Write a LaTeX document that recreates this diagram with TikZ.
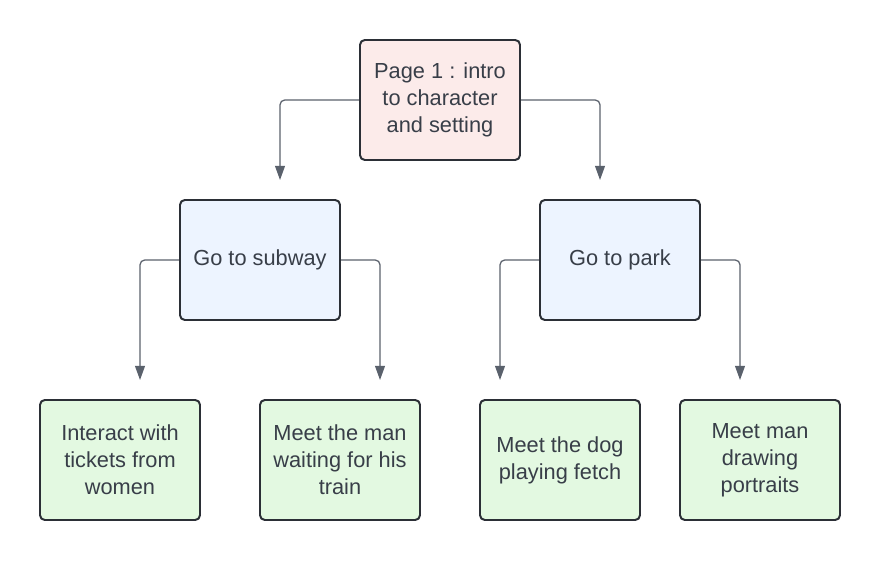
\documentclass[tikz,border=0pt]{standalone}
\usepackage{fontspec}
\setmainfont{Liberation Sans}
\usetikzlibrary{arrows.meta}
\pgfdeclarelayer{edgelayer}
\pgfdeclarelayer{nodelayer}
\pgfsetlayers{edgelayer,nodelayer,main}
\definecolor{lpink}{HTML}{FCEBEA}
\definecolor{lblue}{HTML}{EDF4FF}
\definecolor{lgreen}{HTML}{E3F9E1}
\definecolor{dline}{HTML}{2B2F36}
\definecolor{dtext}{HTML}{383E48}
\definecolor{cline}{HTML}{5A616C}
\tikzstyle{page}=[rectangle, rounded corners=0.12cm, draw=dline, line width=1.4pt, minimum width=4cm, minimum height=3cm, text=dtext, align=center, font=\fontsize{15.5}{19.2}\selectfont]
\tikzstyle{start}=[style=page, fill=lpink]
\tikzstyle{choice}=[style=page, fill=lblue]
\tikzstyle{ending}=[style=page, fill=lgreen]
\tikzstyle{arrow}=[-{Triangle[width=7pt,length=10pt]}, draw=cline, line width=0.9pt, rounded corners=0.12cm]

\begin{document}
\begin{tikzpicture}
            \useasboundingbox (0, 0) rectangle (22, 14);
            \begin{pgfonlayer}{nodelayer}
                \node [style=start] (intro) at (11, 11.5) {Page 1 : intro\\to character\\and setting};
                \node [style=choice] (subway) at (6.5, 7.5) {Go to subway};
                \node [style=choice] (park) at (15.5, 7.5) {Go to park};
                \node [style=ending] (tickets) at (3, 2.5) {Interact with\\tickets from\\women};
                \node [style=ending] (train) at (8.5, 2.5) {Meet the man\\waiting for his\\train};
                \node [style=ending] (dog) at (14, 2.5) {Meet the dog\\playing fetch};
                \node [style=ending] (portraits) at (19, 2.5) {Meet man\\drawing\\portraits};
            \end{pgfonlayer}
            \coordinate (to subway) at (7, 9.5);
            \coordinate (to park) at (15, 9.5);
            \coordinate (to tickets) at (3.5, 4.5);
            \coordinate (to train) at (9.5, 4.5);
            \coordinate (to dog) at (12.5, 4.5);
            \coordinate (to portraits) at (18.5, 4.5);
            \begin{pgfonlayer}{edgelayer}
                \draw [style=arrow] (intro.west) -| (to subway);
                \draw [style=arrow] (intro.east) -| (to park);
                \draw [style=arrow] (subway.west) -| (to tickets);
                \draw [style=arrow] (subway.east) -| (to train);
                \draw [style=arrow] (park.west) -| (to dog);
                \draw [style=arrow] (park.east) -| (to portraits);
            \end{pgfonlayer}
        \end{tikzpicture}
\end{document}
